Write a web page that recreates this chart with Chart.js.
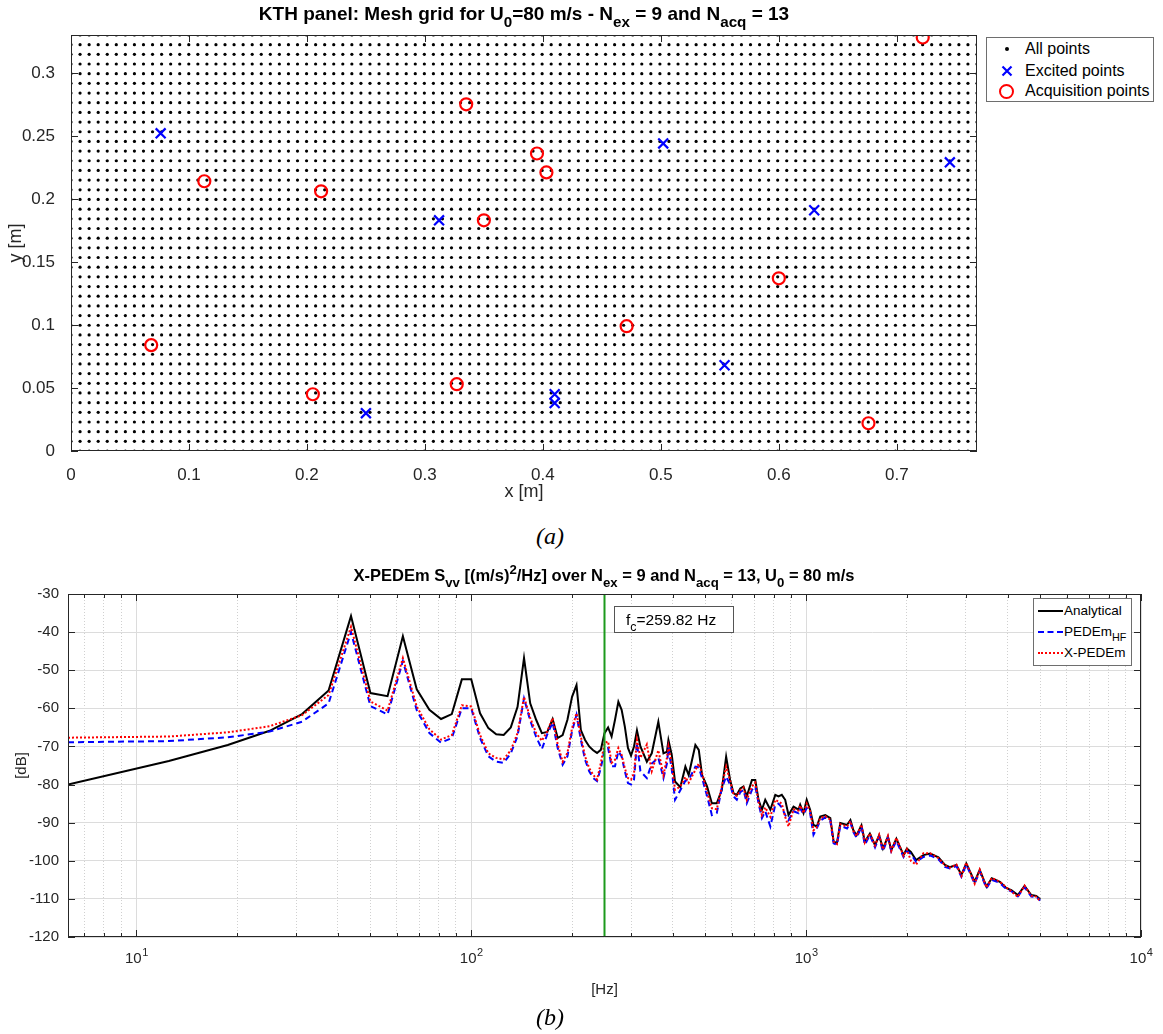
<!DOCTYPE html>
<html>
<head>
<meta charset="utf-8">
<title>KTH panel mesh and X-PEDEm spectrum</title>
<script src="https://cdn.jsdelivr.net/npm/chart.js@4.4.1/dist/chart.umd.min.js"></script>
<style>
  body { margin: 0; background: #fff; width: 1163px; height: 1034px; position: relative; overflow: hidden;
         font-family: "Liberation Sans", Arial, Helvetica, sans-serif; color: #000; }
  canvas { position: absolute; left: 0; }
  #meshCanvas { top: 0; }
  #psdCanvas { top: 555px; }
  .title { position: absolute; font-weight: bold; white-space: nowrap; transform: translateX(-50%); line-height: 1; }
  sub, sup { font-size: 0.8em; line-height: 0; }
  sub { vertical-align: -0.45em; }
  sup { vertical-align: 0.5em; }
  .caption { position: absolute; font-family: "Liberation Serif", "Times New Roman", serif; font-style: italic;
             font-size: 24px; transform: translateX(-50%); line-height: 1; }
  .legend { position: absolute; background: #fff; border: 1px solid #6e6e6e; box-sizing: border-box; }
  .legend .item { position: absolute; white-space: nowrap; line-height: 1; }
  .legend .mark { position: absolute; }
  .fcBox { position: absolute; background: #fff; border: 1px solid #555; box-sizing: border-box;
           font-size: 15.5px; line-height: 1; padding-top: 5px; padding-left: 11px; white-space: nowrap; }
</style>
</head>
<body>
<canvas id="meshCanvas" width="1163" height="515"></canvas>
<canvas id="psdCanvas" width="1163" height="479"></canvas>

<div class="title" style="left:524px; top:4px; font-size:19px;">KTH panel: Mesh grid for U<sub>0</sub>=80 m/s - N<sub>ex</sub> = 9 and N<sub>acq</sub> = 13</div>

<div class="legend" style="left:986px; top:37px; width:168px; height:65px; font-size:16px;">
  <span class="mark" style="left:18px; top:9px; width:4px; height:4px; border-radius:50%; background:#000;"></span>
  <div class="item" style="left:38px; top:3px;">All points</div>
  <svg class="mark" style="left:14px; top:27px;" width="12" height="12"><path d="M1.5 1.5L10.5 10.5M10.5 1.5L1.5 10.5" stroke="#0000ff" stroke-width="2.2"/></svg>
  <div class="item" style="left:38px; top:25px;">Excited points</div>
  <span class="mark" style="left:12px; top:46px; width:11px; height:11px; border-radius:50%; border:2px solid #ff0000;"></span>
  <div class="item" style="left:38px; top:45px;">Acquisition points</div>
</div>

<div class="caption" style="left:550px; top:524px;">(a)</div>

<div class="title" style="left:604px; top:567px; font-size:16.5px;">X-PEDEm S<sub>vv</sub> [(m/s)<sup>2</sup>/Hz] over N<sub>ex</sub> = 9 and N<sub>acq</sub> = 13, U<sub>0</sub> = 80 m/s</div>

<div class="fcBox" style="left:614px; top:606px; width:120px; height:27px;">f<sub>c</sub>=259.82 Hz</div>

<div class="legend" style="left:1033px; top:598px; width:99px; height:68px; font-size:13.5px;">
  <span class="mark" style="left:4px; top:11px; width:25px; border-top:2px solid #000;"></span>
  <div class="item" style="left:30px; top:5px;">Analytical</div>
  <span class="mark" style="left:4px; top:32px; width:25px; border-top:2px dashed #0000ff;"></span>
  <div class="item" style="left:30px; top:26px;">PEDEm<sub>HF</sub></div>
  <span class="mark" style="left:4px; top:53px; width:25px; border-top:2px dotted #ff0000;"></span>
  <div class="item" style="left:30px; top:47px;">X-PEDEm</div>
</div>

<div class="caption" style="left:550px; top:1005px;">(b)</div>

<script>
'use strict';

// ------------------------------- Mesh panel data ------------------------------//
const meshLengthX = 0.768;
const meshLengthY = 0.33;
const meshColumns = 101;
const meshRows = 44;

const excitedX = [0.076, 0.502, 0.745, 0.312, 0.630, 0.554, 0.410, 0.410, 0.250];
const excitedY = [0.252, 0.244, 0.229, 0.183, 0.191, 0.068, 0.045, 0.038, 0.030];

const acquisitionX = [0.722, 0.335, 0.395, 0.403, 0.113, 0.212, 0.350, 0.600, 0.471, 0.068, 0.327, 0.205, 0.676];
const acquisitionY = [0.328, 0.275, 0.236, 0.221, 0.214, 0.206, 0.183, 0.137, 0.099, 0.084, 0.053, 0.045, 0.022];

const meshXTicks = [0, 0.1, 0.2, 0.3, 0.4, 0.5, 0.6, 0.7];
const meshYTicks = [0, 0.05, 0.1, 0.15, 0.2, 0.25, 0.3];

// ------------------------------- Spectrum data ------------------------------//
const freqHz = [
  6.25, 12.5, 18.75, 25, 31.25, 37.5, 43.75, 50, 56.25, 62.5,
  68.75, 75, 81.25, 87.5, 93.75, 100, 106.25, 112.5, 118.75, 125,
  131.25, 137.5, 143.75, 150, 156.25, 162.5, 168.75, 175, 181.25, 187.5,
  193.75, 200, 206.25, 212.5, 218.75, 225, 231.25, 237.5, 243.75, 250,
  256.25, 262.5, 268.75, 275, 281.25, 287.5, 293.75, 300, 306.25, 312.5,
  320, 334.5, 346, 362, 375, 384, 388, 397, 406, 421,
  436, 446, 467, 478, 489, 506, 523, 541, 560, 577,
  593, 607, 621, 636, 650, 665, 689, 705, 721, 738,
  755, 782, 809, 827, 846, 866, 886, 917, 949, 960,
  982, 1004, 1028, 1052, 1076, 1102, 1141, 1181, 1208, 1236,
  1265, 1325, 1356, 1384, 1415, 1463, 1497, 1550, 1606, 1652,
  1696, 1755, 1796, 1860, 1954, 2000, 2055, 2130, 2240, 2346,
  2484, 2598, 2686, 2811, 2908, 3008, 3187, 3299, 3456, 3584,
  3789, 3966, 4100, 4288, 4490, 4702, 4866, 5000
];

const analyticalDb = [
  -80.0, -73.8, -69.6, -65.9, -61.5, -55.3, -35.8, -56.0, -56.8, -41.1,
  -55.0, -60.4, -62.8, -61.5, -52.4, -52.4, -61.3, -65.2, -66.8, -67.0,
  -65.0, -59.6, -46.8, -58.7, -63.0, -66.5, -66.2, -62.8, -67.8, -67.0,
  -63.0, -57.0, -53.9, -65.7, -68.3, -70.0, -71.0, -71.7, -70.9, -66.5,
  -65.0, -67.4, -63.0, -58.3, -60.4, -64.8, -70.4, -72.4, -70.0, -65.8,
  -70.0, -74.0, -71.8, -63.5, -71.8, -71.4, -68.3, -72.2, -79.2, -80.7,
  -75.3, -77.5, -69.6, -70.9, -77.5, -80.5, -84.9, -84.9, -81.4, -72.7,
  -78.8, -82.3, -82.7, -81.0, -80.5, -83.1, -78.8, -78.8, -84.0, -86.6,
  -84.0, -86.6, -82.7, -83.1, -82.7, -84.0, -88.0, -85.8, -86.6, -85.3,
  -87.5, -84.0, -86.6, -90.6, -91.0, -88.4, -88.0, -88.8, -94.9, -95.4,
  -90.1, -90.6, -89.3, -92.0, -93.3, -90.7, -95.0, -92.9, -95.9, -93.3,
  -96.8, -93.7, -97.2, -94.2, -98.5, -96.8, -97.7, -99.8, -98.5, -98.1,
  -99.1, -101.1, -101.7, -101.1, -103.7, -100.7, -105.5, -102.4, -106.8, -104.6,
  -105.5, -107.2, -107.7, -109.0, -106.6, -109.0, -109.2, -110.1
];

const pedemHfDb = [
  -68.9, -68.6, -67.6, -66.1, -63.5, -58.7, -40.0, -59.4, -61.6, -47.6,
  -60.5, -66.5, -69.0, -67.8, -60.0, -60.0, -67.8, -72.6, -74.0, -74.3,
  -71.8, -67.3, -57.4, -63.2, -67.5, -70.7, -66.8, -63.7, -70.5, -74.8,
  -72.6, -66.0, -61.7, -68.3, -73.5, -76.5, -78.3, -79.1, -75.7, -70.9,
  -70.4, -75.2, -75.2, -71.3, -72.6, -76.5, -79.6, -80.0, -78.7, -69.1,
  -76.5, -78.3, -74.5, -73.0, -78.3, -74.5, -70.5, -76.0, -84.0, -81.5,
  -79.0, -78.8, -75.3, -75.5, -78.3, -83.0, -88.0, -87.5, -81.0, -77.9,
  -80.0, -83.1, -84.0, -82.0, -81.4, -84.9, -81.4, -80.5, -84.9, -88.8,
  -87.0, -91.0, -85.3, -85.0, -86.0, -88.0, -89.3, -87.0, -87.5, -86.2,
  -87.8, -86.2, -87.5, -93.2, -91.5, -89.5, -88.6, -89.5, -95.4, -95.8,
  -90.8, -91.5, -90.0, -92.5, -94.0, -91.0, -95.8, -93.3, -96.5, -93.8,
  -97.5, -94.0, -97.5, -94.8, -99.0, -97.5, -98.2, -100.3, -99.0, -98.6,
  -99.6, -101.6, -102.0, -101.4, -104.2, -101.0, -106.0, -102.8, -107.2, -105.0,
  -105.8, -107.5, -108.0, -109.3, -106.9, -109.4, -109.5, -110.4
];

const xPedemDb = [
  -67.7, -67.4, -66.3, -64.7, -61.8, -56.5, -38.6, -58.2, -60.6, -46.8,
  -59.5, -65.5, -68.2, -67.0, -59.2, -59.5, -67.0, -71.8, -73.0, -73.4,
  -71.0, -66.5, -57.0, -62.5, -66.5, -68.5, -66.0, -62.6, -69.5, -74.0,
  -71.7, -65.2, -61.3, -67.4, -72.6, -75.7, -77.4, -78.7, -74.4, -69.1,
  -68.7, -74.3, -73.5, -70.4, -72.2, -75.7, -78.3, -78.7, -77.0, -68.3,
  -73.0, -69.5, -76.5, -71.0, -77.5, -73.0, -70.0, -74.5, -81.4, -80.5,
  -78.0, -79.5, -76.2, -74.5, -77.0, -82.0, -86.2, -86.5, -80.5, -75.3,
  -79.0, -82.5, -83.0, -81.5, -80.8, -84.0, -80.5, -79.5, -84.5, -88.0,
  -86.0, -88.5, -84.0, -84.5, -85.0, -88.5, -91.0, -86.5, -86.8, -85.5,
  -87.5, -85.0, -87.0, -92.0, -91.2, -88.8, -88.3, -89.2, -95.0, -95.6,
  -90.4, -91.0, -89.6, -92.2, -93.5, -90.5, -95.2, -92.8, -96.0, -93.2,
  -97.0, -93.5, -97.4, -94.0, -98.7, -97.0, -100.0, -101.0, -98.0, -98.0,
  -99.3, -101.2, -101.8, -101.0, -104.0, -100.5, -106.0, -102.3, -107.0, -104.5,
  -105.5, -107.0, -108.0, -109.5, -106.5, -109.2, -109.4, -110.6
];

const dbTicks = [-120, -110, -100, -90, -80, -70, -60, -50, -40, -30];
const decadeTicks = [10, 100, 1000, 10000];
const decadeExponents = ['1', '2', '3', '4'];
const minorMultipliers = [2, 3, 4, 5, 6, 7, 8, 9];
const freqMin = 6.25;
const freqMax = 10000;
const fcLineHz = 250;   // where the green cut-on line sits in the picture

// ------------------------------- Helpers ------------------------------//
const fontFamily = '"Liberation Sans", Arial, Helvetica, sans-serif';
Chart.defaults.font.family = fontFamily;
Chart.defaults.color = '#262626';
Chart.defaults.animation = false;

function isDecade(v) {
  return decadeTicks.includes(v);
}

function buildLogGridTicks() {
  let out = [];
  for (let d of [1, 10, 100, 1000]) {
    for (let m of minorMultipliers) {
      if (d * m >= freqMin) {
        out.push(d * m);
      }
    }
  }
  return out.concat(decadeTicks).sort((a, b) => a - b);
}

function toPoints(xs, ys) {
  return xs.map((x, i) => ({x: x, y: ys[i]}));
}

function buildMeshPoints() {
  let pts = [];
  for (let r = 0; r < meshRows; r++) {
    for (let c = 0; c < meshColumns; c++) {
      pts.push({x: c * meshLengthX / (meshColumns - 1), y: r * meshLengthY / (meshRows - 1)});
    }
  }
  return pts;
}

// box around the axes plus inward tick marks, MATLAB style
const axesFrame = {
  id: 'axesFrame',
  afterDraw(chart) {
    const {ctx, chartArea: a, scales} = chart;
    ctx.save();
    ctx.strokeStyle = '#262626';
    ctx.lineWidth = 1;
    ctx.beginPath();
    for (let t of scales.x.ticks) {
      let px = Math.round(scales.x.getPixelForValue(t.value)) + 0.5;
      let len = (scales.x.type === 'logarithmic' && !isDecade(t.value)) ? 4 : 7;
      ctx.moveTo(px, a.bottom);
      ctx.lineTo(px, a.bottom - len);
      ctx.moveTo(px, a.top);
      ctx.lineTo(px, a.top + len);
    }
    for (let t of scales.y.ticks) {
      let py = Math.round(scales.y.getPixelForValue(t.value)) + 0.5;
      ctx.moveTo(a.left, py);
      ctx.lineTo(a.left + 7, py);
      ctx.moveTo(a.right, py);
      ctx.lineTo(a.right - 7, py);
    }
    ctx.stroke();
    ctx.strokeRect(Math.round(a.left) + 0.5, Math.round(a.top) + 0.5,
      Math.round(a.right - a.left) - 1, Math.round(a.bottom - a.top) - 1);
    ctx.restore();
  }
};

// 10^n labels under the log axis, with a raised exponent
const decadeLabels = {
  id: 'decadeLabels',
  afterDraw(chart) {
    const {ctx, chartArea: a, scales} = chart;
    ctx.save();
    ctx.fillStyle = '#262626';
    ctx.textBaseline = 'alphabetic';
    ctx.textAlign = 'left';
    decadeTicks.forEach((v, i) => {
      let px = scales.x.getPixelForValue(v);
      ctx.font = '15px ' + fontFamily;
      let baseW = ctx.measureText('10').width;
      ctx.font = '11px ' + fontFamily;
      let expW = ctx.measureText(decadeExponents[i]).width;
      let x0 = px - (baseW + expW) / 2;
      ctx.font = '15px ' + fontFamily;
      ctx.fillText('10', x0, a.bottom + 26);
      ctx.font = '11px ' + fontFamily;
      ctx.fillText(decadeExponents[i], x0 + baseW + 0.5, a.bottom + 19);
    });
    ctx.restore();
  }
};

// ------------------------------- Mesh chart ------------------------------//
function renderMeshChart() {
  const ctx = document.getElementById('meshCanvas').getContext('2d');
  new Chart(ctx, {
    type: 'scatter',
    data: {
      datasets: [{
        label: 'All points',
        data: buildMeshPoints(),
        pointRadius: 1.6,
        pointHoverRadius: 1.6,
        pointBackgroundColor: '#000',
        pointBorderWidth: 0,
        order: 3
      }, {
        label: 'Excited points',
        data: toPoints(excitedX, excitedY),
        pointStyle: 'crossRot',
        pointRadius: 7,
        pointBorderColor: '#0000ff',
        pointBorderWidth: 2.2,
        order: 2
      }, {
        label: 'Acquisition points',
        data: toPoints(acquisitionX, acquisitionY),
        pointStyle: 'circle',
        pointRadius: 6,
        pointBackgroundColor: 'rgba(0,0,0,0)',
        pointBorderColor: '#ff0000',
        pointBorderWidth: 2.2,
        order: 1
      }]
    },
    options: {
      responsive: false,
      layout: { padding: { top: 35, right: 186, left: 0, bottom: 0 } },
      plugins: { legend: { display: false }, tooltip: { enabled: false } },
      scales: {
        x: {
          type: 'linear',
          min: 0,
          max: meshLengthX,
          afterBuildTicks: (s) => { s.ticks = meshXTicks.map(v => ({value: v})); },
          afterFit: (s) => { s.height = 64; },
          grid: { display: false },
          border: { display: false },
          ticks: { font: { size: 17 }, padding: 6, maxRotation: 0, autoSkip: false, callback: (v) => String(v) },
          title: { display: true, text: 'x [m]', font: { size: 18 }, padding: { bottom: 12 } }
        },
        y: {
          type: 'linear',
          min: 0,
          max: meshLengthY,
          afterBuildTicks: (s) => { s.ticks = meshYTicks.map(v => ({value: v})); },
          afterFit: (s) => { s.width = 71; },
          grid: { display: false },
          border: { display: false },
          ticks: { font: { size: 17 }, padding: 8, autoSkip: false, callback: (v) => String(v) },
          title: { display: true, text: 'y [m]', font: { size: 18 }, padding: { top: 5 } }
        }
      }
    },
    plugins: [axesFrame]
  });
}

// ------------------------------- Spectrum chart ------------------------------//
function renderPsdChart() {
  const ctx = document.getElementById('psdCanvas').getContext('2d');
  const logGridTicks = buildLogGridTicks();
  new Chart(ctx, {
    type: 'line',
    data: {
      datasets: [{
        label: 'f_c',
        data: [{x: fcLineHz, y: -120}, {x: fcLineHz, y: -30}],
        borderColor: '#1c9a1c',
        borderWidth: 2,
        pointRadius: 0,
        order: 0
      }, {
        label: 'X-PEDEm',
        data: toPoints(freqHz, xPedemDb),
        borderColor: '#ff0000',
        borderWidth: 2,
        borderDash: [2, 2],
        pointRadius: 0,
        tension: 0,
        order: 1
      }, {
        label: 'PEDEm_HF',
        data: toPoints(freqHz, pedemHfDb),
        borderColor: '#0000ff',
        borderWidth: 2,
        borderDash: [6, 4],
        pointRadius: 0,
        tension: 0,
        order: 2
      }, {
        label: 'Analytical',
        data: toPoints(freqHz, analyticalDb),
        borderColor: '#000000',
        borderWidth: 2,
        pointRadius: 0,
        tension: 0,
        order: 3
      }]
    },
    options: {
      responsive: false,
      parsing: false,
      layout: { padding: { top: 39, right: 22, left: 0, bottom: 0 } },
      plugins: { legend: { display: false }, tooltip: { enabled: false } },
      scales: {
        x: {
          type: 'logarithmic',
          min: freqMin,
          max: freqMax,
          afterBuildTicks: (s) => { s.ticks = logGridTicks.map(v => ({value: v})); },
          afterFit: (s) => { s.height = 97; },
          grid: {
            drawTicks: false,
            color: (c) => (c.tick && isDecade(c.tick.value)) ? '#dcdcdc' : '#d0d0d0',
            lineWidth: 1
          },
          border: { display: false, dash: (c) => (c.tick && !isDecade(c.tick.value)) ? [1, 2] : [] },
          ticks: { display: false, autoSkip: false },
          title: { display: true, text: '[Hz]', font: { size: 15 }, padding: { bottom: 35 } }
        },
        y: {
          type: 'linear',
          min: -120,
          max: -30,
          afterBuildTicks: (s) => { s.ticks = dbTicks.map(v => ({value: v})); },
          afterFit: (s) => { s.width = 68; },
          grid: { drawTicks: false, color: '#dcdcdc', lineWidth: 1 },
          border: { display: false },
          ticks: { font: { size: 15 }, padding: 9, autoSkip: false },
          title: { display: true, text: '[dB]', font: { size: 15 }, padding: { top: 13 } }
        }
      }
    },
    plugins: [axesFrame, decadeLabels]
  });
}

// ------------------------------- Calling Functions ------------------------------//
renderMeshChart();
renderPsdChart();
</script>
</body>
</html>
